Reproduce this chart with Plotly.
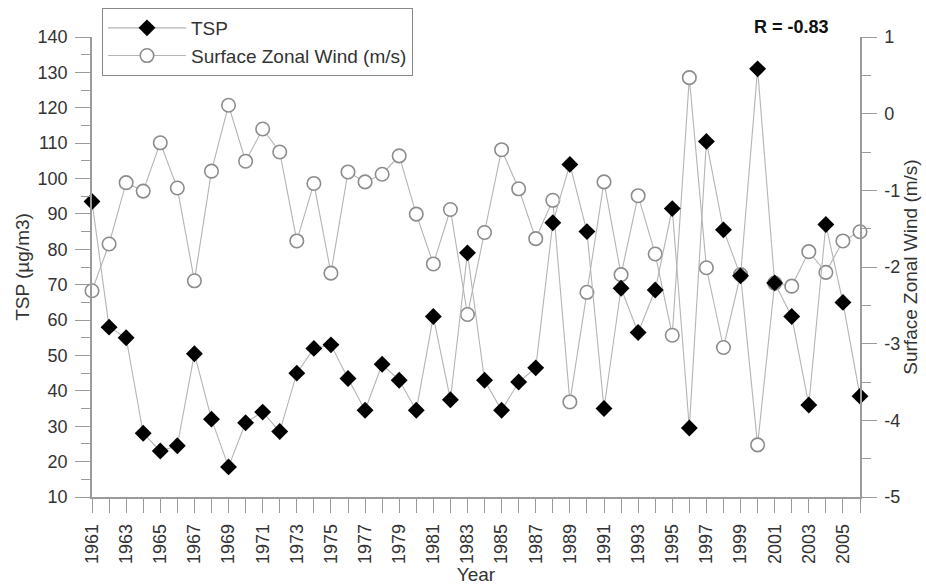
import plotly.graph_objects as go

years = list(range(1961, 2007))
tsp = [93.5, 58, 55, 28, 23, 24.5, 50.5, 32, 18.5, 31, 34, 28.5, 45, 52, 53, 43.5,
       34.5, 47.5, 43, 34.5, 61, 37.5, 79, 43, 34.5, 42.5, 46.5, 87.5, 104, 85, 35,
       69, 56.5, 68.5, 91.5, 29.5, 110.5, 85.5, 72.5, 131, 70.5, 61, 36, 87, 65, 38.5]
wind = [-2.31, -1.70, -0.90, -1.01, -0.38, -0.97, -2.18, -0.75, 0.11, -0.62, -0.20,
        -0.50, -1.66, -0.91, -2.08, -0.76, -0.89, -0.79, -0.55, -1.31, -1.96, -1.25,
        -2.62, -1.55, -0.47, -0.98, -1.63, -1.13, -3.76, -2.33, -0.89, -2.10, -1.07,
        -1.83, -2.89, 0.47, -2.01, -3.05, -2.10, -4.32, -2.21, -2.25, -1.80, -2.07,
        -1.66, -1.54]
year_labels = [str(y) if y % 2 == 1 else "" for y in years]
wind_ticks = [-5, -4, -3, -2, -1, 0, 1]
wind_tick_labels = ["-5", "-4", "-3", "-2", "-1", "0", "1"]

LINE = "#b4b4b4"
AX = "#9a9a9a"
TXT = "#333333"
FONT = "Liberation Sans, Arial, sans-serif"

fig = go.Figure()
fig.add_trace(go.Scatter(
    x=years, y=wind, name="Surface Zonal Wind (m/s)", yaxis="y",
    mode="lines+markers", cliponaxis=False, legendrank=2,
    line=dict(color=LINE, width=1.1),
    marker=dict(symbol="circle", size=13.5, color="white",
                line=dict(color="#8c8c8c", width=1.6)),
))
fig.add_trace(go.Scatter(
    x=years, y=tsp, name="TSP", yaxis="y2",
    mode="lines+markers", cliponaxis=False, legendrank=1,
    line=dict(color=LINE, width=1.1),
    marker=dict(symbol="diamond", size=13, color="black",
                line=dict(color="black", width=0)),
))

fig.update_layout(
    width=926, height=586,
    margin=dict(l=92, r=66, t=37, b=89, autoexpand=False),
    paper_bgcolor="white", plot_bgcolor="white",
    font=dict(family=FONT, size=18, color=TXT),
    showlegend=True,
    legend=dict(x=0.013, y=1.063, xanchor="left", yanchor="top",
                bgcolor="white", bordercolor="#8a8a8a", borderwidth=1,
                itemwidth=78,
                font=dict(size=19, color=TXT), tracegroupgap=0),
    xaxis=dict(
        range=[1961, 2006], tickmode="array", tickvals=years, ticktext=year_labels,
        tickangle=-90, ticks="outside", ticklen=14, tickwidth=1.3, tickcolor=AX,
        showline=True, linecolor=AX, linewidth=1.5, showgrid=False, zeroline=False,
        ticklabelstandoff=4, automargin=False,
        title=dict(text="Year", standoff=0, font=dict(size=19, color=TXT)),
        tickfont=dict(size=18, color=TXT),
    ),
    yaxis=dict(
        range=[-5, 1], side="right", tickmode="array", tickvals=wind_ticks,
        ticktext=wind_tick_labels, ticks="outside", ticklen=15,
        tickwidth=1.3, tickcolor=AX, showline=True, linecolor=AX, linewidth=1.5,
        showgrid=False, zeroline=False, ticklabelstandoff=4, automargin=False,
        minor=dict(dtick=0.5, ticks="outside", ticklen=9, tickcolor=AX, tickwidth=1.3),
        tickfont=dict(size=18, color=TXT),
        title=dict(text="Surface Zonal Wind (m/s)", standoff=2, font=dict(size=19, color=TXT)),
    ),
    yaxis2=dict(
        range=[10, 140], side="left", overlaying="y", dtick=10, tick0=0,
        ticks="outside", ticklen=15, tickwidth=1.3, tickcolor=AX,
        showline=True, linecolor=AX, linewidth=1.5, showgrid=False, zeroline=False,
        ticklabelstandoff=4, automargin=False,
        minor=dict(dtick=5, ticks="outside", ticklen=9, tickcolor=AX, tickwidth=1.3),
        tickfont=dict(size=18, color=TXT),
        title=dict(text="TSP (µg/m3)", standoff=3, font=dict(size=19, color=TXT)),
    ),
    annotations=[dict(
        text="<b>R = -0.83</b>", xref="paper", yref="paper", x=0.911, y=1.022,
        xanchor="center", yanchor="middle", showarrow=False,
        font=dict(size=18, color="#111111", family=FONT),
    )],
)

fig.write_html("out.html", config={"displayModeBar": False},
               post_script="document.body.style.margin='0px';")
